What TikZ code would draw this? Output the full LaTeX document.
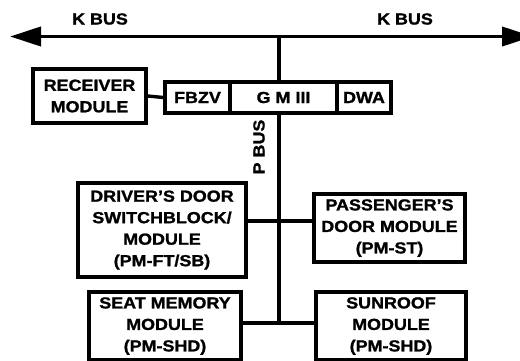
\documentclass[tikz,border=0pt]{standalone}
\usepackage{fontspec}
\newfontfamily\lblfont[FakeStretch=1.12,FakeBold=1.3]{Liberation Sans}
\usetikzlibrary{arrows.meta}
\tikzset{
  lbl/.style={font=\lblfont\bfseries\fontsize{16}{21.5}\selectfont, inner sep=0pt},
  modbox/.style={lbl, draw, line width=3.4pt, align=center, minimum width=#1},
  seg/.style={lbl, draw, line width=3.4pt, minimum height=31pt},
  wire/.style={line width=3.4pt},
  kbus/.style={line width=3.8pt, {Triangle[length=31pt,width=19pt]}-{Triangle[length=31pt,width=19pt]}}
}
\begin{document}
\begin{tikzpicture}[x=1pt,y=-1pt]
\useasboundingbox (0,0) rectangle (520,361);
% K bus
\coordinate (kl) at (10,36.5);
\coordinate (kr) at (533,36.5);
\coordinate (kj) at (279,36.5);
\draw[kbus] (kl) -- (kr);
\node[lbl] (kbl) at (100,19) {K BUS};
\node[lbl] (kbr) at (405,19) {K BUS};
% GM box segments
\node[seg, minimum width=65pt] (fbzv) at (197.5,97.5) {FBZV};
\node[seg, minimum width=107pt] (gm) at (283.5,97.5) {G M III};
\node[seg, minimum width=54pt] (dwa) at (364,97.5) {DWA};
% receiver
\node[modbox=113pt, minimum height=54pt] (recv) at (89.5,96) {RECEIVER\\MODULE};
\draw[wire] (recv.east) -- (fbzv.west);
% bus lines
\draw[wire] (kj) -- (kj |- gm.north);
\coordinate (pb) at (279,323);
\coordinate (pm) at (279,221);
\draw[wire] (kj |- gm.south) -- (pb);
\node[lbl, rotate=90] (pbus) at (259,147) {P BUS};
% modules
\node[modbox=168pt, minimum height=94pt] (drv) at (162,230) {DRIVER’S DOOR\\SWITCHBLOCK/\\MODULE\\(PM-FT/SB)};
\node[modbox=151pt, minimum height=68pt] (pass) at (389.5,228) {PASSENGER’S\\DOOR MODULE\\(PM-ST)};
\node[modbox=152pt, minimum height=68pt] (seat) at (165,326) {SEAT MEMORY\\MODULE\\(PM-SHD)};
\node[modbox=150pt, minimum height=68pt] (sun) at (391,326) {SUNROOF\\MODULE\\(PM-SHD)};
\draw[wire] (drv.east |- pm) -- (pass.west |- pm);
\draw[wire] (seat.east |- pb) -- (sun.west |- pb);
\end{tikzpicture}
\end{document}
